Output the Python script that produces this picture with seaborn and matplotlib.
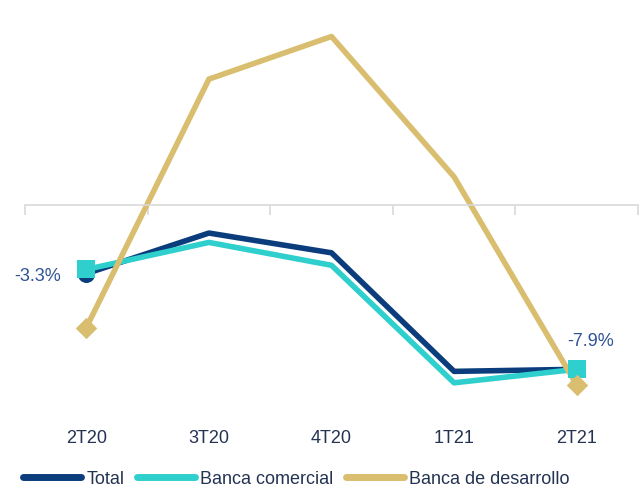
import pandas as pd
import numpy as np
import seaborn as sns
import matplotlib.pyplot as plt
from matplotlib.lines import Line2D

periodos = ['2T20', '3T20', '4T20', '1T21', '2T21']
total = [-3.3, -1.35, -2.3, -8.0, -7.9]
banca_comercial = [-3.1, -1.8, -2.9, -8.55, -7.9]
banca_desarrollo = [-5.9, 6.05, 8.1, 1.35, -8.65]

series = ['Total', 'Banca comercial', 'Banca de desarrollo']
colores = ['#0B3D7C', '#2ECFCC', '#D9BE70']
marcadores = ['o', 's', 'D']
tamanos = [150, 170, 120]

# long format table for seaborn
df = pd.DataFrame({
    'periodo': periodos * 3,
    'valor': total + banca_comercial + banca_desarrollo,
    'serie': [s for s in series for _ in periodos],
})
pos = {p: i for i, p in enumerate(periodos)}
df['x'] = df['periodo'].map(pos)
extremos = df[df['periodo'].isin([periodos[0], periodos[-1]])]
# the total marker only shows at the start
extremos = extremos[~((extremos['serie'] == 'Total') & (extremos['periodo'] == periodos[-1]))]

sns.set_style('white')
plt.rcParams['font.family'] = ['Liberation Sans', 'DejaVu Sans']

fig = plt.figure(figsize=(6.39, 4.87), dpi=100)
ax = fig.add_axes([25 / 639, 0.152, 613 / 639, 0.8115])

for serie, color, mk, sz in zip(series, colores, marcadores, tamanos):
    sub = df[df['serie'] == serie]
    sns.lineplot(ax=ax, data=sub, x='x', y='valor', color=color,
                 linewidth=4, sort=False, legend=False)
    ext = extremos[extremos['serie'] == serie]
    sns.scatterplot(ax=ax, data=ext, x='x', y='valor', color=color,
                    marker=mk, s=sz, linewidth=0, legend=False, zorder=3)

ax.set_xlim(-0.5, len(periodos) - 0.5)
ax.set_ylim(-10, 9)
ax.set_xlabel('')
ax.set_ylabel('')
ax.set_yticks([])

# zero line with separators between categories
for s in ['top', 'left', 'right']:
    ax.spines[s].set_visible(False)
ax.spines['bottom'].set_position(('data', 0))
ax.spines['bottom'].set_color('#D9D9D9')
ax.spines['bottom'].set_linewidth(1.2)
ax.set_xticks(range(len(periodos)))
ax.set_xticks(np.arange(-0.5, len(periodos)), minor=True)
ax.tick_params(axis='x', which='major', length=0, labelbottom=False)
ax.tick_params(axis='x', which='minor', bottom=True, length=7, width=1.2,
               color='#D9D9D9', direction='out')

sec = ax.secondary_xaxis('bottom')
sec.set_xticks(range(len(periodos)), labels=periodos)
sec.spines['bottom'].set_visible(False)
sec.tick_params(axis='x', length=0, pad=12, labelsize=13, labelcolor='#243352')

# value labels
ax.annotate('-3.3%', xy=(0, total[0]), xytext=(-18, -2), textcoords='offset points',
            ha='right', va='center', fontsize=13, color='#2E5493')
ax.annotate('-7.9%', xy=(4, total[-1]), xytext=(10, 20), textcoords='offset points',
            ha='center', va='center', fontsize=13, color='#2E5493')

handles = [Line2D([], [], color=c, linewidth=5, solid_capstyle='round') for c in colores]
fig.legend(handles, series, loc='center', bbox_to_anchor=(0.464, 8 / 487), ncol=3,
           frameon=False, fontsize=13, handlelength=3.2, handletextpad=0.3,
           columnspacing=0.7, labelcolor='#243352')

fig.savefig('out.png', dpi=100)
